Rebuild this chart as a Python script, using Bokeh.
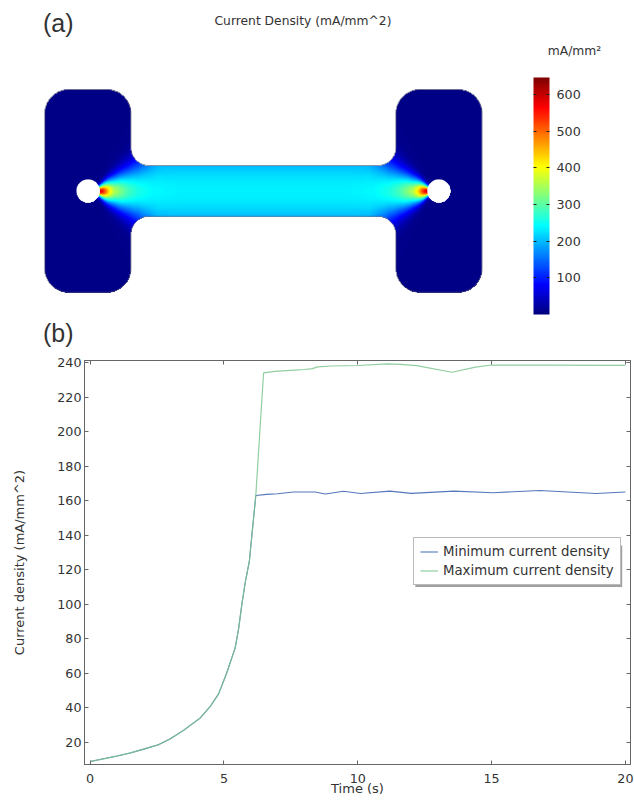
import numpy as np
from bokeh.core.properties import value
from bokeh.embed import file_html
from bokeh.layouts import column
from bokeh.models import (BoxAnnotation, ColorBar, FixedTicker, Legend, LegendItem,
                          LinearAxis, LinearColorMapper, Range1d)
from bokeh.plotting import figure
from bokeh.resources import INLINE

# ---- panel (b) series
rise_time = [0, 0.5, 1, 1.5, 2, 2.55, 3, 3.5, 4.11, 4.5, 4.8, 5.1, 5.42, 5.55, 5.67, 5.8, 5.95, 6.19]
rise_value = [8.8, 10.4, 12, 13.8, 16, 18.5, 22, 27, 34, 41, 48, 60, 74.7, 86, 100, 113, 125, 163]
min_time = [6.6, 7, 7.6, 8.4, 8.79, 9.47, 10.1, 11.2, 12.0, 13.6, 15.07, 16.8, 18.9, 20]
min_value = [163.6, 164, 165, 165, 163.8, 165.4, 164.1, 165.5, 164.2, 165.5, 164.6, 165.9, 164.1, 165]
max_time = [6.48, 7, 7.5, 8, 8.3, 8.5, 9, 10, 11.1, 11.6, 12.2, 13.52, 14.4, 15, 17, 20]
max_value = [234, 235, 235.5, 236, 236.5, 237.5, 238, 238.3, 239.3, 239, 238.2, 234.4, 237.4, 238.6, 238.5, 238.4]
x_ticks = [0, 5, 10, 15, 20]
y_ticks = [20, 40, 60, 80, 100, 120, 140, 160, 180, 200, 220, 240]

# ---- panel (a) current density, sampled along the specimen axis (distance from hole centre, px)
axis_dist = [-30, 0, 8, 11.5, 14, 17.5, 20, 22.5, 26, 32.5, 40, 50, 65, 90, 176]
axis_density = [8, 8, 420, 600, 570, 500, 440, 400, 355, 320, 285, 258, 240, 235, 235]
width_dist = [0, 11.5, 15, 20, 25, 30, 40, 50, 60, 70, 90, 176]
width_px = [3, 5, 7.5, 11, 14, 17, 23, 30, 40, 56, 63, 63]
cbar_ticks = [100, 200, 300, 400, 500, 600]
cbar_low, cbar_high = 0.5, 646
base_density = 8

# ---- specimen geometry (page px)
tab_l, tab_r, tab_t, neck_t, mid_y, mid_x = 44.3, 130.5, 89.0, 165.0, 190.4, 263.0
corner_r, fillet_r, hole_x, hole_r = 24.0, 18.0, 87.6, 11.5

TEXT = "#333333"


def arc(cx, cy, r, a0, a1, n=16):
    a = np.radians(np.linspace(a0, a1, n))
    return np.c_[cx + r * np.cos(a), cy + r * np.sin(a)]


quarter = np.vstack([
    arc(tab_l + corner_r, tab_t + corner_r, corner_r, 180, 270),
    arc(tab_r - corner_r, tab_t + corner_r, corner_r, 270, 360),
    arc(tab_r + fillet_r, neck_t - fillet_r, fillet_r, 180, 90),
])
top = np.vstack([quarter, np.c_[2 * mid_x - quarter[::-1, 0], quarter[::-1, 1]]])
outline = np.vstack([top, np.c_[top[::-1, 0], 2 * mid_y - top[::-1, 1]], top[:1]])

res = 2
xs = np.arange(tab_l - 1, 2 * mid_x - tab_l + 1, 1 / res)
ys = np.arange(tab_t - 1, 2 * mid_y - tab_t + 1, 1 / res)
X, Y = np.meshgrid(xs, ys)
mask = np.zeros(X.shape, bool)
x0, y0 = outline[:-1, 0], outline[:-1, 1]
x1, y1 = outline[1:, 0], outline[1:, 1]
for i, yy in enumerate(ys):
    hit = (y0 <= yy) != (y1 <= yy)
    cross = np.sort(x0[hit] + (yy - y0[hit]) / (y1[hit] - y0[hit]) * (x1[hit] - x0[hit]))
    mask[i] = np.searchsorted(cross, xs) % 2 == 1
Xm = np.minimum(X, 2 * mid_x - X)
D = Xm - hole_x
Yc = Y - mid_y
C = np.interp(D, axis_dist, axis_density)
W = np.interp(D, width_dist, width_px)
F = base_density + (C - base_density) * np.exp(-(Yc / W) ** 2)
F[~mask | (D ** 2 + Yc ** 2 < hole_r ** 2)] = np.nan
F = F.astype(np.float32)


def jet(n=256):
    t = np.linspace(0, 1, n)
    r = np.clip(1.5 - np.abs(4 * t - 3), 0, 1)
    g = np.clip(1.5 - np.abs(4 * t - 2), 0, 1)
    b = np.clip(1.5 - np.abs(4 * t - 1), 0, 1)
    return ["#%02x%02x%02x" % (int(a * 255), int(c * 255), int(d * 255)) for a, c, d in zip(r, g, b)]


mapper = LinearColorMapper(palette=jet(), low=cbar_low, high=cbar_high, nan_color=(0, 0, 0, 0))

# ---- top panel
top_h = 350
pa = figure(width=634, height=top_h, x_range=Range1d(0, 634), y_range=Range1d(top_h, 0),
            output_backend="svg", toolbar_location=None, min_border=0, outline_line_color=None,
            frame_align=False)
pa.axis.visible = False
pa.grid.visible = False
pa.image(image=[F], x=xs[0], y=ys[0], dw=xs[-1] - xs[0], dh=ys[-1] - ys[0], color_mapper=mapper)
pa.line(outline[:, 0], outline[:, 1], line_color="#5d5d70", line_width=1, line_alpha=0.6)
pa.circle([hole_x, 2 * mid_x - hole_x], [mid_y, mid_y], radius=hole_r, fill_color="white", line_color=None)
pa.text([42.5, 42.5], [22, 332], text=["(a)", "(b)"], text_font=value("Liberation Sans"),
        text_font_size="25px", text_color=TEXT, text_baseline="middle")
pa.text([302.5], [20], text=["Current Density (mA/mm^2)"], text_font=value("DejaVu Sans"),
        text_font_size="12.3px", text_color=TEXT, text_align="center", text_baseline="middle")
pa.text([574], [50], text=["mA/mm²"], text_font=value("DejaVu Sans"),
        text_font_size="12.3px", text_color=TEXT, text_align="center", text_baseline="middle")
cb = ColorBar(color_mapper=mapper, ticker=FixedTicker(ticks=cbar_ticks), location=(533, top_h - 314),
              width=16, height=237, padding=0, margin=0, label_standoff=7,
              major_label_text_font="DejaVu Sans", major_label_text_font_size="12.7px",
              major_label_text_color=TEXT, major_tick_line_color="#222222", major_tick_in=16,
              major_tick_line_dash="3 10", minor_tick_line_color=None, bar_line_color=None,
              border_line_color=None, background_fill_color=None)
pa.add_layout(cb, "center")

# ---- bottom panel
pb = figure(width=634, height=800 - top_h, x_range=Range1d(-0.21, 20.19), y_range=Range1d(7.1, 241.2),
            output_backend="svg", toolbar_location=None, min_border_left=84, min_border_right=4,
            min_border_top=10, min_border_bottom=36, outline_line_color="#666666", frame_align=False)
pb.grid.visible = False
for ax in (pb.xaxis[0], pb.yaxis[0]):
    ax.major_tick_in, ax.major_tick_out, ax.minor_tick_line_color = 4, 0, None
    ax.major_tick_line_color = ax.axis_line_color = "#666666"
    ax.major_label_text_font = ax.axis_label_text_font = "DejaVu Sans"
    ax.major_label_text_font_size = "12.7px"
    ax.axis_label_text_font_size = "13px"
    ax.major_label_text_color = ax.axis_label_text_color = TEXT
    ax.axis_label_text_font_style = "normal"
pb.xaxis[0].ticker = FixedTicker(ticks=x_ticks)
pb.yaxis[0].ticker = FixedTicker(ticks=y_ticks)
pb.xaxis[0].axis_label = "Time (s)"
pb.yaxis[0].axis_label = "Current density (mA/mm^2)"
pb.xaxis[0].major_label_standoff = 9
pb.yaxis[0].major_label_standoff = 3
pb.xaxis[0].axis_label_standoff = -5
pb.yaxis[0].axis_label_standoff = 27
for side, tick in (("above", x_ticks), ("right", y_ticks)):
    a = LinearAxis(ticker=FixedTicker(ticks=tick), major_label_text_color=None, major_tick_in=4,
                   major_tick_out=0, minor_tick_line_color=None, major_tick_line_color="#666666",
                   axis_line_color="#666666", major_label_standoff=0, major_label_text_font_size="1px")
    pb.add_layout(a, side)
blue = pb.line(rise_time + min_time, rise_value + min_value, line_color="#5577bb", line_width=1.1)
green = pb.line(rise_time + max_time, rise_value + max_value, line_color="#7cc48f", line_width=1.2, line_alpha=0.85)
pb.add_layout(BoxAnnotation(left=12.15, right=19.88, bottom=110, top=134, fill_color="#a0a0a0",
                            fill_alpha=1, line_color=None))
legend = Legend(items=[LegendItem(label="Minimum current density", renderers=[blue]),
                       LegendItem(label="Maximum current density", renderers=[green])],
                location=(329, 179), orientation="vertical", margin=0, padding=6, spacing=4,
                glyph_width=18, glyph_height=15, label_height=15, label_standoff=5,
                label_text_font="DejaVu Sans", label_text_font_size="13.3px", label_text_color=TEXT,
                border_line_color="#777777", background_fill_color="white", background_fill_alpha=1)
pb.add_layout(legend, "center")

open("out.html", "w").write(file_html(column(pa, pb, spacing=0), INLINE))
